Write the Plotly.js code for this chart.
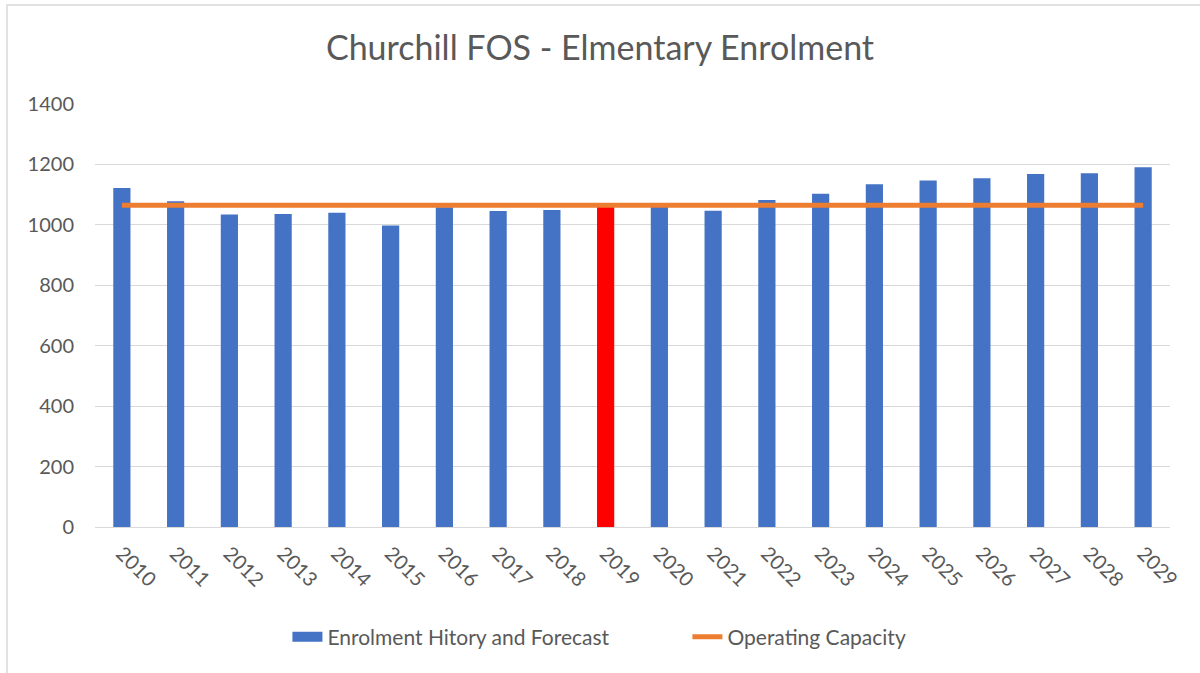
<!DOCTYPE html>
<html>
<head>
<meta charset="utf-8">
<script src="https://cdn.plot.ly/plotly-3.0.1.min.js"></script>
<style>
  html, body { margin: 0; padding: 0; background: #fff; }
  #chart { width: 1200px; height: 673px; }
</style>
</head>
<body>
<div id="chart"></div>
<script>
const years = ["2010", "2011", "2012", "2013", "2014", "2015", "2016", "2017", "2018", "2019",
  "2020", "2021", "2022", "2023", "2024", "2025", "2026", "2027", "2028", "2029"];
const enrolment = [1122, 1078, 1034, 1036, 1040, 998, 1058, 1046, 1049, 1066,
  1062, 1047, 1082, 1103, 1134, 1147, 1154, 1168, 1171, 1191];
const capacity = years.map(() => 1065);
const highlightYear = "2019";

const barColors = years.map((y) => (y === highlightYear ? "#ff0000" : "#4472c4"));

const data = [
  {
    x: years,
    y: enrolment,
    type: "bar",
    name: "Enrolment Hitory and Forecast",
    marker: { color: barColors },
    showlegend: false,
  },
  // legend entry only: wide blue swatch like the original
  {
    x: [years[0]],
    y: [null],
    type: "scatter",
    mode: "lines",
    name: "Enrolment Hitory and Forecast",
    line: { color: "#4472c4", width: 13 },
    hoverinfo: "skip",
  },
  {
    x: years,
    y: capacity,
    type: "scatter",
    mode: "lines",
    name: "Operating Capacity",
    line: { color: "#ed7d31", width: 5 },
  },
];

const layout = {
  width: 1200,
  height: 673,
  paper_bgcolor: "#ffffff",
  plot_bgcolor: "#ffffff",
  font: { family: "Lato, 'Open Sans', sans-serif", size: 16, color: "#595959" },
  title: {
    text: "Churchill FOS - Elmentary Enrolment",
    font: { size: 34, color: "#595959" },
    x: 0.5,
    xanchor: "center",
    y: 0.928,
    yanchor: "middle",
  },
  margin: { l: 95, r: 30, t: 104, b: 146 },
  bargap: 0.68,
  showlegend: true,
  legend: {
    orientation: "h",
    x: 0.179,
    xanchor: "left",
    y: -0.26,
    yanchor: "middle",
    bgcolor: "rgba(0,0,0,0)",
    font: { size: 21, color: "#595959" },
    traceorder: "normal",
    entrywidth: 355,
  },
  xaxis: {
    type: "category",
    tickangle: 45,
    tickfont: { size: 20, color: "#595959" },
    ticklabelstandoff: 6,
    showline: true,
    linecolor: "#d9d9d9",
    linewidth: 1,
    showgrid: false,
    ticks: "",
  },
  yaxis: {
    range: [0, 1400],
    dtick: 200,
    tickfont: { size: 20, color: "#595959" },
    ticklabelstandoff: 20,
    gridcolor: "#d9d9d9",
    gridwidth: 1,
    zeroline: false,
    showline: false,
    ticks: "",
  },
  shapes: [
    {
      type: "rect",
      xref: "paper",
      yref: "paper",
      x0: -0.0819,
      x1: 1.05,
      y0: -0.4,
      y1: 1.234,
      line: { color: "#d9d9d9", width: 1.5 },
    },
  ],
};

Plotly.newPlot("chart", data, layout, { displayModeBar: false });
</script>
</body>
</html>
